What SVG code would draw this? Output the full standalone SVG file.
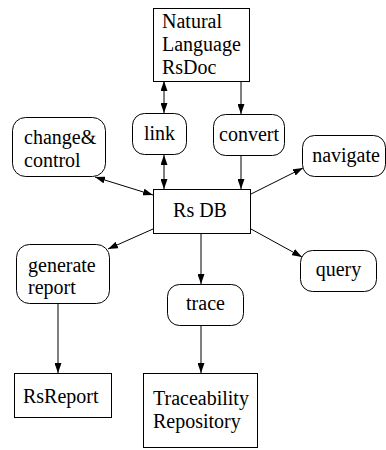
<svg xmlns="http://www.w3.org/2000/svg" width="386" height="450" viewBox="0 0 386 450">
<style>
.box{fill:#fff;stroke:#000;stroke-width:1}
.m{text-anchor:middle}
.e{stroke:#000;stroke-width:1;fill:none;marker-end:url(#ah)}
.d{marker-start:url(#ah)}
</style>
<defs>
<marker id="ah" markerUnits="userSpaceOnUse" markerWidth="10" markerHeight="7" refX="10" refY="3.5" orient="auto-start-reverse">
<path d="M0,0 L10,3.5 L0,7 z" fill="#000"/>
</marker>
</defs>
<rect width="386" height="450" fill="#fff"/>
<g id="edges">
<line class="e d" x1="164" y1="81" x2="164" y2="113"/>
<line class="e d" x1="164" y1="155" x2="164" y2="189"/>
<line class="e" x1="241" y1="81" x2="241" y2="114"/>
<line class="e" x1="241" y1="156" x2="241" y2="189"/>
<line class="e d" x1="95" y1="177" x2="153" y2="195"/>
<line class="e" x1="251" y1="194" x2="303" y2="168"/>
<line class="e" x1="251" y1="229" x2="302" y2="257"/>
<line class="e" x1="153" y1="229" x2="108" y2="249"/>
<line class="e" x1="201" y1="234" x2="201" y2="284"/>
<line class="e" x1="201" y1="325" x2="201" y2="373"/>
<line class="e" x1="58" y1="303" x2="58" y2="373"/>
</g>
<g id="nodes" font-family="Liberation Serif, serif" font-size="20" fill="#000">
<g id="nl">
<rect class="box" x="153.5" y="8.5" width="96" height="73"/>
<text x="162" y="28">Natural</text>
<text x="162" y="51">Language</text>
<text x="162" y="74">RsDoc</text>
</g>
<g id="link">
<rect class="box" x="132.5" y="113.5" width="54" height="41" rx="12"/>
<text class="m" x="159.5" y="140">link</text>
</g>
<g id="convert">
<rect class="box" x="213.5" y="114.5" width="71" height="41" rx="12"/>
<text class="m" x="249" y="141">convert</text>
</g>
<g id="change">
<rect class="box" x="12.5" y="117.5" width="93" height="59" rx="13"/>
<text x="24" y="144">change&amp;</text>
<text x="24" y="167">control</text>
</g>
<g id="navigate">
<rect class="box" x="302.5" y="135.5" width="83" height="41" rx="12"/>
<text class="m" x="346" y="162">navigate</text>
</g>
<g id="rsdb">
<rect class="box" x="153.5" y="189.5" width="97" height="44"/>
<text class="m" x="200" y="217">Rs DB</text>
</g>
<g id="generate">
<rect class="box" x="16.5" y="244.5" width="93" height="59" rx="13"/>
<text x="28" y="272">generate</text>
<text x="28" y="294">report</text>
</g>
<g id="query">
<rect class="box" x="300.5" y="250.5" width="76" height="41" rx="12"/>
<text class="m" x="338.5" y="276">query</text>
</g>
<g id="trace">
<rect class="box" x="167.5" y="284.5" width="76" height="41" rx="12"/>
<text class="m" x="205.5" y="310">trace</text>
</g>
<g id="rsreport">
<rect class="box" x="14.5" y="373.5" width="97" height="44"/>
<text x="23" y="403">RsReport</text>
</g>
<g id="trep">
<rect class="box" x="143.5" y="373.5" width="114" height="74"/>
<text x="153" y="405">Traceability</text>
<text x="153" y="428">Repository</text>
</g>
</g>
</svg>
